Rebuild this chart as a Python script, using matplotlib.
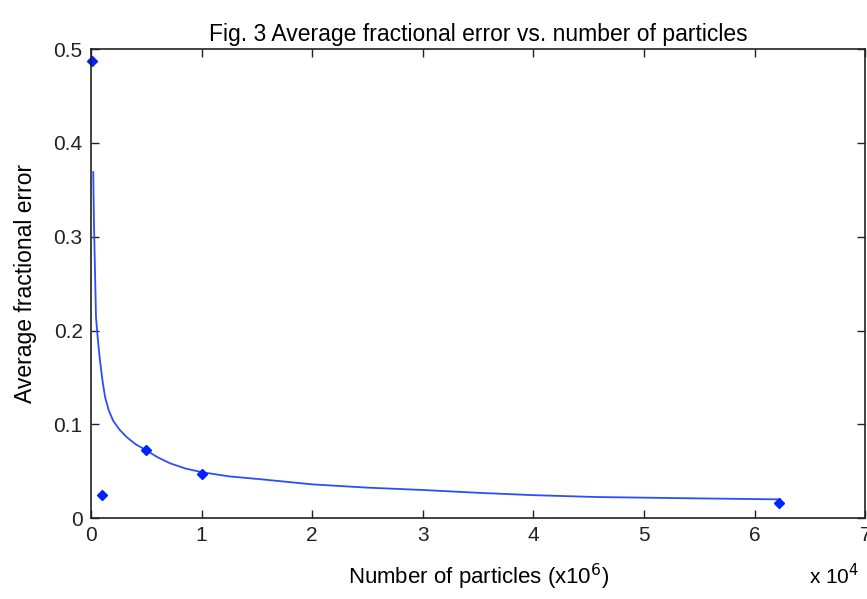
import matplotlib.pyplot as plt
import numpy as np

plt.rcParams['font.family'] = ['Liberation Sans', 'DejaVu Sans']

# measured points (number of particles, average fractional error)
n_particles = [100, 1000, 5000, 10000, 62200]
avg_error = [0.487, 0.0245, 0.0725, 0.047, 0.016]

# fitted curve
fit_x = [200, 260, 360, 450, 620, 810, 1030, 1270, 1600, 1990, 2600, 3260,
         4000, 4970, 6000, 7140, 8500, 10000, 12500, 15300, 20000, 25000,
         30000, 35000, 40000, 45700, 55300, 62300]
fit_y = [0.369, 0.318, 0.262, 0.214, 0.19, 0.168, 0.147, 0.129, 0.115, 0.104,
         0.094, 0.086, 0.079, 0.0725, 0.065, 0.0585, 0.053, 0.049, 0.0445,
         0.0415, 0.036, 0.0325, 0.030, 0.027, 0.0245, 0.0225, 0.021, 0.020]

x_ticks = [0, 10000, 20000, 30000, 40000, 50000, 60000, 70000]
x_tick_labels = ['0', '1', '2', '3', '4', '5', '6', '7']
y_ticks = [0, 0.1, 0.2, 0.3, 0.4, 0.5]
y_tick_labels = ['0', '0.1', '0.2', '0.3', '0.4', '0.5']

fig = plt.figure(figsize=(8.67, 5.99), dpi=100)
ax = fig.add_axes([0.105, 0.135, 0.893, 0.783])

ax.plot(fit_x, fit_y, color='#2a4dff', linewidth=1.3)
ax.plot(n_particles, avg_error, linestyle='none', marker='D', markersize=5,
        color='#0022ff', clip_on=False)

ax.set_xlim(0, 70000)
ax.set_ylim(0, 0.5)
ax.set_xticks(x_ticks)
ax.set_xticklabels(x_tick_labels)
ax.set_yticks(y_ticks)
ax.set_yticklabels(y_tick_labels)
ax.tick_params(direction='in', top=True, right=True, length=6, width=1,
               labelsize=15, pad=6, colors='#222222')
for s in ax.spines.values():
    s.set_linewidth(1.2)
    s.set_color('#222222')

ax.set_title('Fig. 3 Average fractional error vs. number of particles',
             fontsize=16.5, pad=6)
ax.set_xlabel('Number of particles (x10$^6$)', fontsize=16, labelpad=12)
ax.set_ylabel('Average fractional error', fontsize=16.5, labelpad=12)
fig.text(0.933, 0.025, 'x 10$^4$', fontsize=15)

fig.savefig('out.png', dpi=100)
